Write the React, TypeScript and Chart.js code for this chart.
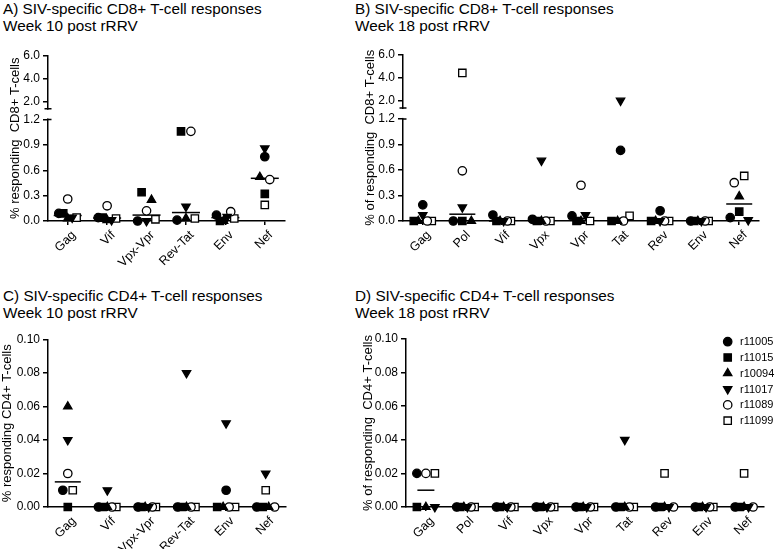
import React, { useEffect, useRef } from 'react';
import { Chart, registerables } from 'chart.js';

Chart.register(...registerables);

const FONT = "'Liberation Sans', Arial, Helvetica, sans-serif";
const LABEL_FONT = 'Arial, Helvetica, sans-serif';
const INK = '#000';

// ---------- data ----------
const seriesNames = ['r11005', 'r11015', 'r10094', 'r11017', 'r11089', 'r11099'];

const catsWeek10 = ['Gag', 'Vif', 'Vpx-Vpr', 'Rev-Tat', 'Env', 'Nef'];
const catsWeek18 = ['Gag', 'Pol', 'Vif', 'Vpx', 'Vpr', 'Tat', 'Rev', 'Env', 'Nef'];

// A) CD8+ week 10
const cd8w10_r11005 = [0.09, 0.04, 0.0, 0.01, 0.07, 0.76];
const cd8w10_r11015 = [0.09, 0.04, 0.34, 1.06, 0.0, 0.32];
const cd8w10_r10094 = [0.03, 0.01, 0.25, 0.03, 0.0, 0.52];
const cd8w10_r11017 = [0.04, 0.01, 0.0, 0.17, 0.05, 0.86];
const cd8w10_r11089 = [0.26, 0.18, 0.12, 1.06, 0.11, 0.49];
const cd8w10_r11099 = [0.04, 0.03, 0.02, 0.03, 0.03, 0.19];

// B) CD8+ week 18
const cd8w18_r11005 = [0.19, 0.0, 0.07, 0.02, 0.06, 0.83, 0.12, 0.0, 0.04];
const cd8w18_r11015 = [0.0, 0.0, 0.0, 0.0, 0.0, 0.0, 0.0, 0.0, 0.11];
const cd8w18_r10094 = [0.0, 0.0, 0.0, 0.0, 0.0, 0.0, 0.0, 0.0, 0.29];
const cd8w18_r11017 = [0.07, 0.16, 0.0, 0.71, 0.07, 2.0, 0.0, 0.0, 0.01];
const cd8w18_r11089 = [0.0, 0.59, 0.0, 0.0, 0.42, 0.0, 0.0, 0.0, 0.45];
const cd8w18_r11099 = [0.0, 4.4, 0.0, 0.0, 0.0, 0.06, 0.0, 0.0, 0.53];

// C) CD4+ week 10
const cd4w10_r11005 = [0.01, 0.0, 0.0, 0.0, 0.01, 0.0];
const cd4w10_r11015 = [0.0, 0.0, 0.0, 0.0, 0.0, 0.0];
const cd4w10_r10094 = [0.06, 0.0, 0.0, 0.0, 0.0, 0.0];
const cd4w10_r11017 = [0.04, 0.01, 0.0, 0.08, 0.05, 0.02];
const cd4w10_r11089 = [0.02, 0.0, 0.0, 0.0, 0.0, 0.0];
const cd4w10_r11099 = [0.01, 0.0, 0.0, 0.0, 0.0, 0.01];

// D) CD4+ week 18
const cd4w18_r11005 = [0.02, 0.0, 0.0, 0.0, 0.0, 0.0, 0.0, 0.0, 0.0];
const cd4w18_r11015 = [0.0, 0.0, 0.0, 0.0, 0.0, 0.0, 0.0, 0.0, 0.0];
const cd4w18_r10094 = [0.0, 0.0, 0.0, 0.0, 0.0, 0.0, 0.0, 0.0, 0.0];
const cd4w18_r11017 = [0.0, 0.0, 0.0, 0.0, 0.0, 0.04, 0.0, 0.0, 0.0];
const cd4w18_r11089 = [0.02, 0.0, 0.0, 0.0, 0.0, 0.0, 0.0, 0.0, 0.0];
const cd4w18_r11099 = [0.02, 0.0, 0.0, 0.0, 0.0, 0.0, 0.02, 0.0, 0.02];

const cd8TickValues = [0, 0.3, 0.6, 0.9, 1.2, 2, 4, 6];
const cd8TickLabels = ['0.0', '0.3', '0.6', '0.9', '1.2', '2.0', '4.0', '6.0'];
const cd4TickValues = [0, 0.02, 0.04, 0.06, 0.08, 0.1];
const cd4TickLabels = ['0.00', '0.02', '0.04', '0.06', '0.08', '0.10'];

// ---------- broken axis mapping (display units) ----------
const PLOT_H = 168;
const BREAK_LOW = 1.2;   // top of lower segment
const BREAK_HIGH = 1.35; // bottom of upper segment
const TOP_VALUE = 6;
const LOW_SPAN = 103;
const GAP = 11;
const HIGH_SPAN = PLOT_H - LOW_SPAN - GAP;

function brokenY(v: number): number {
  if (v <= BREAK_LOW) return (v / BREAK_LOW) * LOW_SPAN;
  return LOW_SPAN + GAP + ((v - BREAK_HIGH) / (TOP_VALUE - BREAK_HIGH)) * HIGH_SPAN;
}

function median(a: number[]): number {
  const s = [...a].sort((x, y) => x - y);
  const n = s.length;
  return n % 2 ? s[(n - 1) / 2] : (s[n / 2 - 1] + s[n / 2]) / 2;
}

// ---------- marker styles ----------
const markerStyles = [
  { pointStyle: 'circle', rotation: 0, radius: 4.2, fill: '#000' },
  { pointStyle: 'rect', rotation: 0, radius: 5.2, fill: '#000' },
  { pointStyle: 'triangle', rotation: 0, radius: 4.8, fill: '#000' },
  { pointStyle: 'triangle', rotation: 180, radius: 4.8, fill: '#000' },
  { pointStyle: 'circle', rotation: 0, radius: 4.2, fill: '#fff' },
  { pointStyle: 'rect', rotation: 0, radius: 5.2, fill: '#fff' },
];

// GraphPad-like scatter spreading: points of a column that overlap vertically are spread sideways.
function swarmOffsets(series: number[][], toPx: (v: number) => number, pxPerCat: number): number[][] {
  const nCat = series[0].length;
  const out = series.map(() => new Array(nCat).fill(0));
  for (let j = 0; j < nCat; j++) {
    const pts = series
      .map((s, i) => ({ i, p: toPx(s[j]) }))
      .sort((a, b) => a.p - b.p || a.i - b.i);
    let cluster = [pts[0]];
    const flush = () => {
      const members = [...cluster].sort((a, b) => a.i - b.i);
      const n = members.length;
      const step = n > 1 ? Math.min(10, 18 / (n - 1)) : 0;
      members.forEach((m, k) => {
        out[m.i][j] = ((k - (n - 1) / 2) * step) / pxPerCat;
      });
    };
    for (let k = 1; k < pts.length; k++) {
      if (pts[k].p - pts[k - 1].p < 8) cluster.push(pts[k]);
      else {
        flush();
        cluster = [pts[k]];
      }
    }
    flush();
  }
  return out;
}

function drawMarker(ctx: CanvasRenderingContext2D, style: string, rotationDeg: number, r: number, x: number, y: number) {
  ctx.beginPath();
  if (style === 'circle') {
    ctx.arc(x, y, r, 0, Math.PI * 2);
  } else if (style === 'rect') {
    const s = Math.SQRT1_2 * r;
    ctx.rect(x - s, y - s, 2 * s, 2 * s);
  } else {
    let rad = (rotationDeg * Math.PI) / 180;
    ctx.moveTo(x + Math.sin(rad) * r, y - Math.cos(rad) * r);
    rad += (2 * Math.PI) / 3;
    ctx.lineTo(x + Math.sin(rad) * r, y - Math.cos(rad) * r);
    rad += (2 * Math.PI) / 3;
    ctx.lineTo(x + Math.sin(rad) * r, y - Math.cos(rad) * r);
    ctx.closePath();
  }
  ctx.fill();
  ctx.stroke();
}

const breakPlugin = {
  id: 'axisBreak',
  afterDraw(chart: any) {
    const ys = chart.scales.y;
    const x0 = chart.chartArea.left;
    const pLow = ys.getPixelForValue(brokenY(BREAK_LOW));
    const pHigh = ys.getPixelForValue(LOW_SPAN + GAP);
    const ctx = chart.ctx;
    ctx.save();
    ctx.fillStyle = '#fff';
    ctx.fillRect(x0 - 3, pHigh + 1, 6, pLow - pHigh - 2);
    ctx.strokeStyle = INK;
    ctx.lineWidth = 1.5;
    ctx.beginPath();
    ctx.moveTo(x0 - 3.5, pHigh);
    ctx.lineTo(x0 + 3.5, pHigh);
    ctx.moveTo(x0 - 1, pLow);
    ctx.lineTo(x0 + 3.5, pLow);
    ctx.stroke();
    ctx.restore();
  },
};

const legendPlugin = {
  id: 'seriesLegend',
  afterDraw(chart: any) {
    const ctx = chart.ctx;
    const { right, top } = chart.chartArea;
    ctx.save();
    ctx.font = `11px ${FONT}`;
    ctx.textBaseline = 'middle';
    ctx.textAlign = 'left';
    seriesNames.forEach((name, i) => {
      const m = markerStyles[i];
      const y = top + 2.7 + i * 15.8;
      ctx.fillStyle = m.fill;
      ctx.strokeStyle = INK;
      ctx.lineWidth = 1.3;
      drawMarker(ctx, m.pointStyle, m.rotation, m.radius, right - 36.3, y);
      ctx.fillStyle = INK;
      ctx.fillText(name, right - 24, y + 0.5);
    });
    ctx.restore();
  },
};

// rotated (45°) category labels, anchored at each category tick of the x scale
function makeCategoryLabels(cats: string[]) {
  return {
    id: 'categoryLabels',
    afterDraw(chart: any) {
      const xs = chart.scales.x;
      const yb = chart.chartArea.bottom;
      const ctx = chart.ctx;
      ctx.save();
      ctx.fillStyle = INK;
      ctx.font = `12.5px ${LABEL_FONT}`;
      ctx.textAlign = 'right';
      cats.forEach((c, i) => {
        ctx.save();
        ctx.translate(xs.getPixelForValue(i) + 8.5, yb + 14.5);
        ctx.rotate(-Math.PI / 4);
        ctx.fillText(c, 0, 0);
        ctx.restore();
      });
      ctx.restore();
    },
  };
}

type Spec = {
  cats: string[];
  series: number[][];
  broken: boolean;
  tickValues: number[];
  tickLabels: string[];
  yTitle: string;
  titlePad: number;
  yWidth: number;
  xHeight: number;
  padTop: number;
  padRight: number;
  medianHalf: number;
  legend: boolean;
  left: number;
  top: number;
  width: number;
  height: number;
};

function buildConfig(spec: Spec): any {
  const toDisplay = spec.broken ? brokenY : (v: number) => v;
  const yMax = spec.broken ? PLOT_H : spec.tickValues[spec.tickValues.length - 1];
  const toPx = (v: number) => (toDisplay(v) * PLOT_H) / yMax;
  const plotW = spec.width - spec.yWidth - spec.padRight;
  const pxPerCat = plotW / spec.cats.length;
  const offs = swarmOffsets(spec.series, toPx, pxPerCat);

  const datasets: any[] = spec.series.map((vals, i) => {
    const m = markerStyles[i];
    return {
      label: seriesNames[i],
      data: vals.map((v, j) => ({ x: j + offs[i][j], y: toDisplay(v) })),
      pointStyle: m.pointStyle,
      pointRotation: m.rotation,
      pointRadius: m.radius,
      pointHoverRadius: m.radius,
      pointBackgroundColor: m.fill,
      pointBorderColor: INK,
      pointBorderWidth: 1.3,
      showLine: false,
      clip: false,
    };
  });
  datasets.push({
    label: 'median',
    data: spec.cats.map((_, j) => ({ x: j, y: toDisplay(median(spec.series.map((s) => s[j]))) })),
    pointStyle: 'line',
    pointRadius: spec.medianHalf,
    pointHoverRadius: spec.medianHalf,
    pointBorderColor: INK,
    pointBorderWidth: 1.5,
    showLine: false,
    clip: false,
  });

  const plugins: any[] = [makeCategoryLabels(spec.cats)];
  if (spec.broken) plugins.push(breakPlugin);
  if (spec.legend) plugins.push(legendPlugin);

  return {
    type: 'scatter',
    data: { datasets },
    plugins,
    options: {
      responsive: false,
      animation: false,
      devicePixelRatio: 1,
      layout: { padding: { top: spec.padTop, right: spec.padRight, bottom: 0, left: 0 } },
      plugins: {
        legend: { display: false },
        tooltip: { enabled: false },
        title: { display: false },
      },
      scales: {
        x: {
          type: 'linear',
          min: -0.5,
          max: spec.cats.length - 0.5,
          afterBuildTicks: (s: any) => {
            s.ticks = spec.cats.map((_, i) => ({ value: i }));
          },
          afterFit: (s: any) => {
            s.height = spec.xHeight;
          },
          ticks: {
            display: false,
            autoSkip: false,
          },
          grid: { display: true, drawOnChartArea: false, drawTicks: true, tickLength: 4, color: INK, lineWidth: 1.5 },
          border: { display: true, color: INK, width: 1.5 },
        },
        y: {
          type: 'linear',
          min: 0,
          max: yMax,
          bounds: 'data',
          afterBuildTicks: (s: any) => {
            s.ticks = spec.tickValues.map((v) => ({ value: toDisplay(v) }));
          },
          afterFit: (s: any) => {
            s.width = spec.yWidth;
          },
          ticks: {
            autoSkip: false,
            padding: 3,
            color: INK,
            font: { family: FONT, size: 12 },
            callback: (_v: any, idx: number) => spec.tickLabels[idx],
          },
          grid: { display: true, drawOnChartArea: false, drawTicks: true, tickLength: 5, color: INK, lineWidth: 1.5 },
          border: { display: true, color: INK, width: 1.5 },
          title: {
            display: true,
            text: spec.yTitle,
            color: INK,
            font: { family: FONT, size: 13 },
            padding: { top: spec.titlePad, bottom: 0 },
          },
        },
      },
    },
  };
}

const specA: Spec = {
  cats: catsWeek10,
  series: [cd8w10_r11005, cd8w10_r11015, cd8w10_r10094, cd8w10_r11017, cd8w10_r11089, cd8w10_r11099],
  broken: true,
  tickValues: cd8TickValues,
  tickLabels: cd8TickLabels,
  yTitle: '% responding  CD8+ T-cells',
  titlePad: 7.7,
  yWidth: 48,
  xHeight: 49,
  padTop: 13,
  padRight: 13,
  medianHalf: 14,
  legend: false,
  left: 0,
  top: 40,
  width: 300,
  height: 230,
};

const specB: Spec = {
  cats: catsWeek18,
  series: [cd8w18_r11005, cd8w18_r11015, cd8w18_r10094, cd8w18_r11017, cd8w18_r11089, cd8w18_r11099],
  broken: true,
  tickValues: cd8TickValues,
  tickLabels: cd8TickLabels,
  yTitle: '% of responding  CD8+ T-cells',
  titlePad: 7.5,
  yWidth: 48,
  xHeight: 49,
  padTop: 13,
  padRight: 16,
  medianHalf: 13,
  legend: false,
  left: 355,
  top: 40,
  width: 420,
  height: 230,
};

const specC: Spec = {
  cats: catsWeek10,
  series: [cd4w10_r11005, cd4w10_r11015, cd4w10_r10094, cd4w10_r11017, cd4w10_r11089, cd4w10_r11099],
  broken: false,
  tickValues: cd4TickValues,
  tickLabels: cd4TickLabels,
  yTitle: '% responding CD4+ T-cells',
  titlePad: 0,
  yWidth: 48,
  xHeight: 42,
  padTop: 14,
  padRight: 13,
  medianHalf: 13,
  legend: false,
  left: 0,
  top: 325,
  width: 300,
  height: 224,
};

const specD: Spec = {
  cats: catsWeek18,
  series: [cd4w18_r11005, cd4w18_r11015, cd4w18_r10094, cd4w18_r11017, cd4w18_r11089, cd4w18_r11099],
  broken: false,
  tickValues: cd4TickValues,
  tickLabels: cd4TickLabels,
  yTitle: '% of responding  CD4+ T-cells',
  titlePad: 5.2,
  yWidth: 51,
  xHeight: 42,
  padTop: 14,
  padRight: 11,
  medianHalf: 8.5,
  legend: true,
  left: 355,
  top: 325,
  width: 420,
  height: 224,
};

function Panel({ spec }: { spec: Spec }) {
  const ref = useRef<HTMLCanvasElement>(null);
  useEffect(() => {
    const chart = new Chart(ref.current as HTMLCanvasElement, buildConfig(spec));
    return () => chart.destroy();
  }, [spec]);
  return (
    <canvas
      ref={ref}
      width={spec.width}
      height={spec.height}
      style={{ position: 'absolute', left: spec.left, top: spec.top }}
    />
  );
}

function Title({ left, top, lines }: { left: number; top: number; lines: string[] }) {
  return (
    <div
      style={{
        position: 'absolute',
        left,
        top,
        fontFamily: FONT,
        fontSize: 15.3,
        lineHeight: '16.6px',
        color: INK,
        whiteSpace: 'pre',
      }}
    >
      {lines.map((l, i) => (
        <div key={i}>{l}</div>
      ))}
    </div>
  );
}

export default function App() {
  return (
    <div style={{ position: 'fixed', left: 0, top: 0, width: 775, height: 549, background: '#fff' }}>
      <Title left={3} top={1.3} lines={['A) SIV-specific CD8+ T-cell responses', 'Week 10 post rRRV']} />
      <Title left={355} top={1.3} lines={['B) SIV-specific CD8+ T-cell responses', 'Week 18 post rRRV']} />
      <Title left={3} top={288} lines={['C) SIV-specific CD4+ T-cell responses', 'Week 10 post rRRV']} />
      <Title left={355} top={288} lines={['D) SIV-specific CD4+ T-cell responses', 'Week 18 post rRRV']} />
      <Panel spec={specA} />
      <Panel spec={specB} />
      <Panel spec={specC} />
      <Panel spec={specD} />
    </div>
  );
}
